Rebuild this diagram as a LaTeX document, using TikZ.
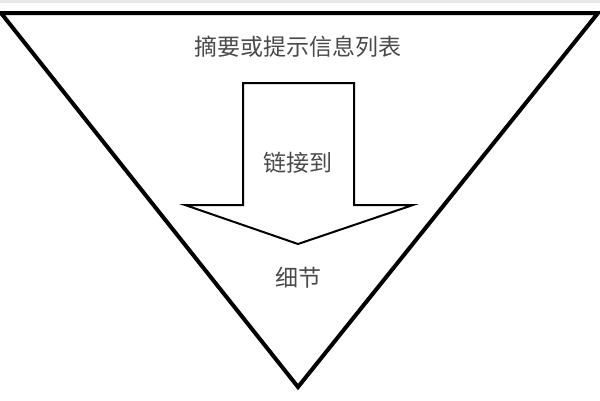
\documentclass[tikz,border=0pt]{standalone}
\usepackage{fontspec}
\newfontfamily\cjk{Noto Sans CJK SC}
\definecolor{txtgray}{HTML}{4A4A4A}
\definecolor{edgegray}{HTML}{E6E6E6}
\begin{document}
\begin{tikzpicture}[x=1pt,y=-1pt,
  tri/.style={draw=black,line width=4pt,line join=miter},
  arrowshape/.style={draw=black,line width=2pt,line join=miter,fill=white},
  lbl/.style={text=txtgray,font=\cjk\fontsize{23}{25}\selectfont,inner sep=0pt}]
\useasboundingbox (0,0) rectangle (600,400);
\fill[white] (0,0) rectangle (600,400);
\draw[edgegray,line width=2.5pt] (0,1.25) -- (600,1.25);
\coordinate (tl) at (1,13);
\coordinate (tr) at (598,13);
\coordinate (apex) at (298,387);
\draw[tri] (tl) -- (tr) -- (apex) -- cycle;
\draw[arrowshape] (243,83) -- (354,83) -- (354,205) -- (413,205) -- (298,244) -- (185,205) -- (243,205) -- cycle;
\node[lbl] (summary) at (298,47) {摘要或提示信息列表};
\node[lbl] (link) at (298,163) {链接到};
\node[lbl] (detail) at (298,278) {细节};
\end{tikzpicture}
\end{document}
